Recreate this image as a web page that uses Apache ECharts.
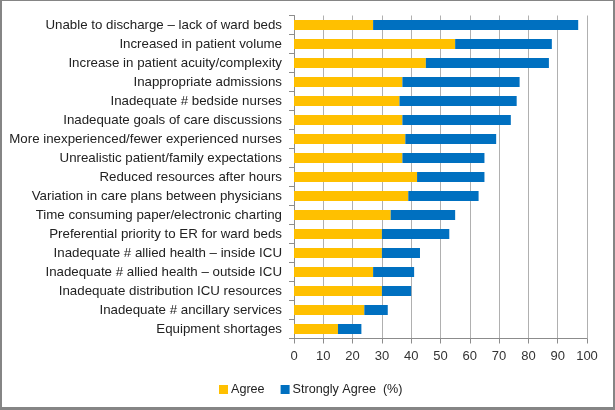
<!DOCTYPE html>
<html><head><meta charset="utf-8">
<script src="https://cdn.jsdelivr.net/npm/echarts@6/dist/echarts.min.js"></script>
<style>
html,body{margin:0;padding:0;background:#fff;}
#frame{position:absolute;left:0;top:0;width:611px;height:406px;border-style:solid;border-color:#858585;border-width:1px 2px 3px 2px;}
#chart{position:absolute;left:0;top:0;width:615px;height:410px;}
</style></head>
<body><div id="frame"></div><div id="chart"></div>
<script>
const categories = [
 "Unable to discharge \u2013 lack of ward beds",
 "Increased in patient volume",
 "Increase in patient acuity/complexity",
 "Inappropriate admissions",
 "Inadequate # bedside nurses",
 "Inadequate goals of care discussions",
 "More inexperienced/fewer experienced nurses",
 "Unrealistic patient/family expectations",
 "Reduced resources after hours",
 "Variation in care plans between physicians",
 "Time consuming paper/electronic charting",
 "Preferential priority to ER for ward beds",
 "Inadequate # allied health \u2013 inside ICU",
 "Inadequate # allied health \u2013 outside ICU",
 "Inadequate distribution ICU resources",
 "Inadequate # ancillary services",
 "Equipment shortages"
];
const agree =         [27, 55, 45, 37, 36, 37, 38, 37, 42, 39, 33, 30, 30, 27, 30, 24, 15];
const stronglyAgree = [70, 33, 42, 40, 40, 37, 31, 28, 23, 24, 22, 23, 13, 14, 10,  8,  8];
const xTicks = { min: 0, max: 100, interval: 10 };
const seriesNames = ["Agree", "Strongly Agree  (%)"];

const font = "'Liberation Sans', Arial, sans-serif";
const chart = echarts.init(document.getElementById('chart'), null, {renderer:'canvas'});
chart.setOption({
  animation: false,
  textStyle: { fontFamily: font },
  grid: { left: 294, right: 28, top: 15.5, bottom: 71.5, containLabel: false },
  xAxis: {
    type: 'value', min: xTicks.min, max: xTicks.max, interval: xTicks.interval,
    axisLine: { show: true, lineStyle: { color: '#8c8c8c', width: 1 } },
    axisTick: { show: true, length: 5, lineStyle: { color: '#8c8c8c' } },
    axisLabel: { color: '#333', fontSize: 13, margin: 11, fontFamily: font },
    splitLine: { show: true, lineStyle: { color: '#b0b0b0', width: 1 } }
  },
  yAxis: {
    type: 'category', data: categories, inverse: true,
    axisLine: { show: true, lineStyle: { color: '#8c8c8c', width: 1 } },
    axisTick: { show: true, length: 5, alignWithLabel: false, lineStyle: { color: '#8c8c8c' } },
    axisLabel: { color: '#222', fontSize: 13.3, margin: 12, fontFamily: font },
    splitLine: { show: false }
  },
  legend: {
    left: 214, top: 378, itemWidth: 9, itemHeight: 9, itemGap: 16,
    icon: 'rect',
    textStyle: { color: '#222', fontSize: 12.6, fontFamily: font, padding: [0,0,0,-2] },
    data: seriesNames
  },
  series: [
    { name: seriesNames[0], type: 'bar', stack: 't', data: agree, barWidth: 10,
      itemStyle: { color: '#FFC000' } },
    { name: seriesNames[1], type: 'bar', stack: 't', data: stronglyAgree, barWidth: 10,
      itemStyle: { color: '#0070C0' } }
  ]
});
</script></body></html>
